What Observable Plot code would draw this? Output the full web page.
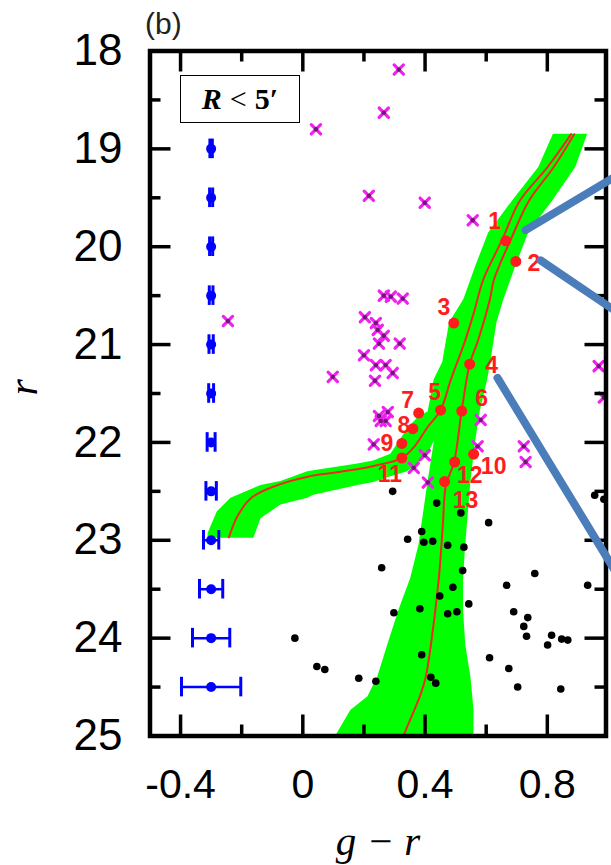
<!DOCTYPE html>
<html>
<head>
<meta charset="utf-8">
<script src="https://cdn.jsdelivr.net/npm/d3@7"></script>
<script src="https://cdn.jsdelivr.net/npm/@observablehq/plot@0.6"></script>
<style>
  html, body { margin: 0; padding: 0; background: #fff; }
  #wrap { position: relative; width: 611px; height: 865px; }
  #legendBox {
    position: absolute; left: 180px; top: 75px; width: 118px; height: 46px;
    border: 1.5px solid #000; background: #fff;
    font-family: "Liberation Serif", "DejaVu Serif", serif; font-size: 30px;
    display: flex; align-items: center; justify-content: center; line-height: 1;
  }
  #legendBox .R { font-weight: bold; font-style: italic; }
  #legendBox .lt { font-weight: normal; margin: 0 8px; }
  #legendBox .five { font-weight: bold; }
</style>
</head>
<body>
<div id="wrap">
  <div id="chart"></div>
  <div id="legendBox"><span class="R">R</span><span class="lt">&lt;</span><span class="five">5′</span></div>
</div>
<script>
// ---------- data ----------
// tick values
const xMajorTicks = [-0.4, 0, 0.4, 0.8];
const xMinorTicks = [-0.2, 0.2, 0.6];
const yMajorTicks = [18, 19, 20, 21, 22, 23, 24, 25];
const yMinorTicks = [18.5, 19.5, 20.5, 21.5, 22.5, 23.5, 24.5];

// green envelope: RGB + main sequence (r, left g-r, right g-r)
const rgbBandR     = [18.85, 19.19, 19.53, 19.86, 20.2, 20.54, 20.78, 21.18, 21.36, 21.69, 22.0, 22.4, 23.05, 23.39, 23.72, 24.07, 24.4, 24.6, 24.74, 25.0];
const rgbBandLeft  = [0.82, 0.772, 0.687, 0.608, 0.566, 0.527, 0.48, 0.458, 0.43, 0.41, 0.43, 0.41, 0.38, 0.353, 0.314, 0.278, 0.245, 0.213, 0.157, 0.108];
const rgbBandRight = [0.932, 0.893, 0.818, 0.739, 0.697, 0.658, 0.635, 0.615, 0.605, 0.58, 0.565, 0.55, 0.533, 0.526, 0.526, 0.533, 0.55, 0.556, 0.56, 0.56];

// green envelope: horizontal branch (g-r, upper r, lower r)
const hbBandX   = [-0.31, -0.28, -0.235, -0.16, -0.137, -0.072, 0.016, 0.036, 0.18, 0.232, 0.288, 0.343, 0.376, 0.409, 0.43];
const hbBandTop = [22.93, 22.71, 22.57, 22.47, 22.44, 22.40, 22.30, 22.29, 22.22, 22.19, 22.12, 21.86, 21.75, 21.69, 21.69];
const hbBandBot = [22.98, 22.98, 22.98, 22.98, 22.78, 22.64, 22.57, 22.54, 22.44, 22.41, 22.35, 22.30, 22.22, 22.12, 21.99];

// isochrone A (to horizontal branch)
const isoA_x = [0.878, 0.80, 0.71, 0.652, 0.59, 0.56, 0.53, 0.484, 0.451, 0.409, 0.363, 0.324, 0.232, 0.124, 0.016, -0.095, -0.17, -0.213, -0.242];
const isoA_r = [18.85, 19.19, 19.53, 19.93, 20.34, 20.67, 20.97, 21.36, 21.67, 21.84, 22.05, 22.16, 22.24, 22.30, 22.35, 22.45, 22.57, 22.75, 22.97];
// isochrone B (to main sequence)
const isoB_x = [0.888, 0.82, 0.74, 0.68, 0.625, 0.612, 0.572, 0.546, 0.52, 0.495, 0.468, 0.458, 0.445, 0.419, 0.402, 0.386, 0.364, 0.337, 0.33];
const isoB_r = [18.85, 19.19, 19.53, 19.93, 20.34, 20.54, 20.97, 21.2, 21.67, 22.2, 22.44, 22.85, 23.39, 24.07, 24.4, 24.57, 24.74, 24.94, 25.0];

// numbered member stars
const memberId = [1, 2, 3, 4, 5, 6, 7, 8, 9, 10, 11, 12, 13];
const memberGR = [0.664, 0.697, 0.494, 0.546, 0.451, 0.520, 0.379, 0.360, 0.324, 0.559, 0.324, 0.497, 0.464];
const memberR  = [19.94, 20.15, 20.78, 21.20, 21.67, 21.68, 21.70, 21.86, 22.01, 22.12, 22.16, 22.20, 22.40];

// magenta crosses
const crossGR = [0.314, 0.265, 0.043, 0.216, 0.399, 0.556, 0.265, 0.288, 0.327, -0.245, 0.203, 0.239, 0.245, 0.265, 0.249, 0.317, 0.200, 0.239, 0.271, 0.294, 0.098, 0.236, 0.968, 0.985, 0.249, 0.278, 0.271, 0.255, 0.582, 0.232, 0.572, 0.399, 0.723, 0.729, 0.363, 0.409];
const crossR  = [18.19, 18.63, 18.80, 19.48, 19.55, 19.73, 20.50, 20.51, 20.53, 20.76, 20.72, 20.78, 20.85, 20.91, 20.99, 20.99, 21.11, 21.21, 21.21, 21.29, 21.33, 21.37, 21.22, 21.54, 21.73, 21.69, 21.78, 21.78, 21.77, 22.02, 22.04, 22.13, 22.04, 22.20, 22.26, 22.41];

// black field stars
const fieldGR = [0.294, 0.438, 0.517, 0.608, 0.955, 0.985, 0.389, 0.343, 0.396, 0.425, 0.474, 0.527, 0.258, 0.523, 0.759, 0.667, 0.932, 0.491, 0.448, 0.543, 0.298, 0.383, 0.474, 0.504, 0.690, 0.736, 0.723, 0.732, 0.814, 0.801, 0.847, 0.867, -0.026, 0.389, 0.611, 0.046, 0.072, 0.674, 0.183, 0.239, 0.419, 0.435, 0.703, 0.844];
const fieldR  = [22.50, 22.62, 22.72, 22.82, 22.54, 22.58, 22.91, 22.99, 23.02, 23.01, 23.05, 23.07, 23.28, 23.31, 23.34, 23.46, 23.46, 23.48, 23.57, 23.65, 23.74, 23.70, 23.75, 23.73, 23.73, 23.79, 23.88, 23.98, 23.97, 24.07, 24.01, 24.02, 24.00, 24.17, 24.20, 24.29, 24.32, 24.31, 24.41, 24.44, 24.40, 24.46, 24.50, 24.52];

// photometric error bars
const errColorGR = -0.3;
const errR   = [19, 19.5, 20, 20.5, 21, 21.5, 22, 22.5, 23, 23.5, 24, 24.5];
const errGR  = [0.004, 0.005, 0.005, 0.006, 0.007, 0.008, 0.013, 0.017, 0.025, 0.038, 0.061, 0.097];
const errMag = [0.1, 0.1, 0.1, 0.1, 0.1, 0.1, 0.1, 0.1, 0.1, 0.1, 0.1, 0.1];

// zoom-inset connector lines (start inside plot, run off the right edge)
const connId = [1, 1, 2, 2, 3, 3];
const connGR = [0.729, 1.105, 0.778, 1.105, 0.637, 1.105];
const connR  = [19.83, 19.13, 20.14, 20.83, 21.34, 23.74];

// ---------- tables ----------
const rgbBand = rgbBandR.map((r, i) => ({r, left: rgbBandLeft[i], right: rgbBandRight[i]}));
const hbBand = hbBandX.map((x, i) => ({x, top: hbBandTop[i], bot: hbBandBot[i]}));
const isoA = isoA_x.map((x, i) => ({x, r: isoA_r[i]}));
const isoB = isoB_x.map((x, i) => ({x, r: isoB_r[i]}));
const members = memberId.map((id, i) => ({id, x: memberGR[i], r: memberR[i]}));
const crosses = crossGR.map((x, i) => ({x, r: crossR[i]}));
const field = fieldGR.map((x, i) => ({x, r: fieldR[i]}));
const errs = errR.map((r, i) => ({r, e: errGR[i], m: errMag[i]}));
const conns = connId.map((id, i) => ({id, x: connGR[i], r: connR[i]}));

// ---------- layout ----------
const W = 611, H = 865;
const mL = 149.5, mR = 5.5, mT = 50.5, mB = 129.5;
const frameW = W - mL - mR, frameH = H - mT - mB;
const xDomain = [-0.5, 0.992], yDomain = [18, 25];
const pxX = frameW / (xDomain[1] - xDomain[0]);
const pxY = frameH / (yDomain[1] - yDomain[0]);
const majorLen = 21, minorLen = 11;

// label offsets in pixels relative to each numbered star
const labelOffset = {
  1: [-11, -19], 2: [18, 2], 3: [-10, -15], 4: [22, 1], 5: [-6, -18], 6: [20, -12],
  7: [-11, -12], 8: [-9, -3], 9: [-15, 0], 10: [20, 12], 11: [-12, 17], 12: [15, 14], 13: [21, 19]
};

const green = "#00ff00", red = "#ee2a1e", blue = "#0000ff";

const chart = Plot.plot({
  width: W, height: H,
  marginLeft: mL, marginRight: mR, marginTop: mT, marginBottom: mB,
  x: {domain: xDomain},
  y: {domain: yDomain, reverse: true},
  style: {fontFamily: "'Liberation Sans', Arial, sans-serif", background: "#fff", color: "#000"},
  marks: [
    Plot.areaX(rgbBand, {y: "r", x1: "left", x2: "right", fill: green, clip: true}),
    Plot.areaY(hbBand, {x: "x", y1: "top", y2: "bot", fill: green, clip: true}),
    Plot.line(isoA, {x: "x", y: "r", stroke: red, strokeWidth: 2, curve: "catmull-rom", clip: true}),
    Plot.line(isoB, {x: "x", y: "r", stroke: red, strokeWidth: 2, curve: "catmull-rom", clip: true}),
    Plot.dot(field, {x: "x", y: "r", r: 3.8, fill: "#000", clip: true}),
    Plot.dot(crosses, {x: "x", y: "r", symbol: "times", r: 4.3, stroke: "#f020f0", strokeWidth: 3.2, strokeLinecap: "round", clip: true}),
    Plot.dot(crosses, {x: "x", y: "r", r: 2.2, fill: "#6a1a70", clip: true}),
    Plot.dot(members, {x: "x", y: "r", r: 5.5, fill: "#ff1c1c"}),
    Plot.text(members, {
      x: d => d.x + labelOffset[d.id][0] / pxX,
      y: d => d.r + labelOffset[d.id][1] / pxY,
      text: d => String(d.id), fill: "#ff1c1c", fontSize: 23, fontWeight: "bold"
    }),
    // error bars
    Plot.ruleY(errs, {y: "r", x1: d => errColorGR - d.e, x2: d => errColorGR + d.e, stroke: blue, strokeWidth: 2.5}),
    Plot.ruleX(errs, {x: d => errColorGR - d.e, y1: d => d.r - d.m, y2: d => d.r + d.m, stroke: blue, strokeWidth: 3}),
    Plot.ruleX(errs, {x: d => errColorGR + d.e, y1: d => d.r - d.m, y2: d => d.r + d.m, stroke: blue, strokeWidth: 3}),
    Plot.dot(errs, {x: () => errColorGR, y: "r", r: 5, fill: blue}),
    // frame & inward ticks
    Plot.frame({stroke: "#000", strokeWidth: 4.5}),
    Plot.ruleX(xMajorTicks, {x: d => d, insetTop: frameH - majorLen, stroke: "#000", strokeWidth: 3.5}),
    Plot.ruleX(xMajorTicks, {x: d => d, insetBottom: frameH - majorLen, stroke: "#000", strokeWidth: 3.5}),
    Plot.ruleX(xMinorTicks, {x: d => d, insetTop: frameH - minorLen, stroke: "#000", strokeWidth: 3.5}),
    Plot.ruleX(xMinorTicks, {x: d => d, insetBottom: frameH - minorLen, stroke: "#000", strokeWidth: 3.5}),
    Plot.ruleY(yMajorTicks, {y: d => d, insetRight: frameW - majorLen, stroke: "#000", strokeWidth: 3.5}),
    Plot.ruleY(yMajorTicks, {y: d => d, insetLeft: frameW - majorLen, stroke: "#000", strokeWidth: 3.5}),
    Plot.ruleY(yMinorTicks, {y: d => d, insetRight: frameW - minorLen, stroke: "#000", strokeWidth: 3.5}),
    Plot.ruleY(yMinorTicks, {y: d => d, insetLeft: frameW - minorLen, stroke: "#000", strokeWidth: 3.5}),
    // tick labels
    Plot.axisX(xMajorTicks, {anchor: "bottom", tickSize: 0, tickPadding: 32.5, fontSize: 41, label: null, tickFormat: d => String(d)}),
    Plot.axisY(yMajorTicks, {anchor: "left", tickSize: 0, tickPadding: 27.5, fontSize: 44, label: null, tickFormat: d => String(d)}),
    // axis titles & panel tag
    Plot.text(["g − r"], {frameAnchor: "bottom", dy: 119, lineAnchor: "bottom", fontSize: 41, fontStyle: "italic", fontFamily: "'Liberation Serif', serif", fill: "#000"}),
    Plot.text(["r"], {frameAnchor: "left", dx: -126, dy: 2, rotate: -90, lineAnchor: "middle", fontSize: 42, fontStyle: "italic", fontFamily: "'Liberation Serif', serif", fill: "#000"}),
    Plot.text(["(b)"], {frameAnchor: "top-left", dx: -5, dy: -27, textAnchor: "start", lineAnchor: "middle", fontSize: 30, fill: "#222"}),
    // inset connector lines
    Plot.line(conns, {x: "x", y: "r", z: "id", stroke: "#4a7dba", strokeWidth: 8})
  ]
});
document.getElementById("chart").appendChild(chart);
</script>
</body>
</html>
